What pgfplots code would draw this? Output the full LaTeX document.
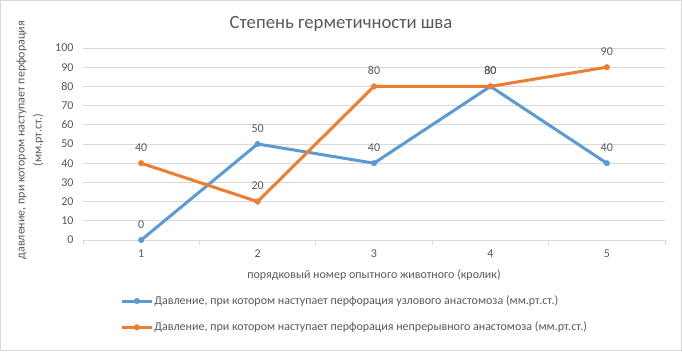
\documentclass[border=0pt]{standalone}
\usepackage{pgfplots}
\pgfplotsset{compat=1.18}
\usepackage{fontspec}
\setmainfont{Carlito}
\definecolor{sblue}{HTML}{5B9BD5}
\definecolor{sorange}{HTML}{ED7D31}
\definecolor{txt}{HTML}{595959}
\definecolor{gridc}{HTML}{D9D9D9}
\begin{document}
\begin{tikzpicture}
\useasboundingbox (0pt,0pt) rectangle (682pt,351pt);
\draw[gridc,line width=0.75pt] (0.5pt,0.5pt) rectangle (681.5pt,350.5pt);
\node[txt,font=\fontsize{18.7}{20}\selectfont] at (341pt,327pt) {Степень герметичности шва};
\begin{axis}[
  at={(83pt,111pt)}, anchor=south west,
  scale only axis, width=582pt, height=192pt,
  xmin=0.5, xmax=5.5, ymin=0, ymax=100,
  ytick={0,10,...,100},
  xtick={1,2,3,4,5},
  minor xtick={0.5,1.5,...,5.5},
  axis line style={draw=none},
  axis x line*=bottom,
  x axis line style={draw=gridc, line width=0.75pt},
  ymajorgrids, major grid style={gridc, line width=0.75pt},
  minor x tick style={gridc, line width=0.75pt},
  minor tick length=5pt,
  major x tick style={draw=none},
  major tick length=0pt,
  tick align=outside,
  ytick style={draw=none},
  tick label style={txt, font=\fontsize{12}{14}\selectfont},
  /pgf/number format/assume math mode=true,
  yticklabel style={xshift=-6pt},
  xticklabel style={yshift=-6pt},
  xlabel={порядковый номер опытного животного (кролик)},
  xlabel style={txt, font=\fontsize{12}{14}\selectfont, at={(axis description cs:0.5,0)}, anchor=north, yshift=-26pt},
  ylabel={давление, при котором наступает перфорация\\(мм.рт.ст.)},
  ylabel style={txt, font=\fontsize{12}{17}\selectfont, align=center, at={(axis description cs:0,0.52)}, anchor=south, yshift=36pt},
  nodes near coords,
  every node near coord/.append style={txt, font=\fontsize{12}{14}\selectfont, anchor=south, yshift=8pt},
  legend style={draw=none, fill=none, at={(axis description cs:0.064,-0.285)}, anchor=north west, font=\fontsize{12}{14}\selectfont, text=txt, row sep=14pt, inner sep=0pt, nodes={inner sep=1pt}},
  legend cell align=left,
  legend image code/.code={\draw[mark repeat=2,mark phase=2,#1] plot coordinates {(0pt,0pt) (15pt,0pt) (30pt,0pt)};},
]
\addplot[sblue, line width=3pt, mark=*, mark size=2.8pt, mark options={solid, line width=0.4pt, fill=sblue, draw=sblue}] coordinates {(1,0) (2,50) (3,40) (4,80) (5,40)};
\addlegendentry{Давление, при котором наступает перфорация узлового анастомоза (мм.рт.ст.)}
\addplot[sorange, line width=3pt, mark=*, mark size=2.8pt, mark options={solid, line width=0.4pt, fill=sorange, draw=sorange}] coordinates {(1,40) (2,20) (3,80) (4,80) (5,90)};
\addlegendentry{Давление, при котором наступает перфорация непрерывного анастомоза (мм.рт.ст.)}
\end{axis}
\end{tikzpicture}
\end{document}
